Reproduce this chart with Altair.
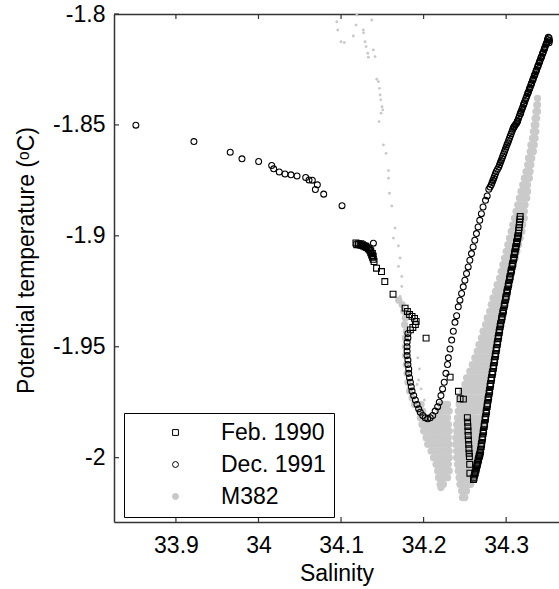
import altair as alt
import pandas as pd

FONT = "Liberation Sans"
X_DOMAIN = [33.825, 34.364]
Y_DOMAIN = [-2.029, -1.8]
X_TICKS = [33.9, 34.0, 34.1, 34.2, 34.3]
Y_TICKS = [-2.0, -1.95, -1.9, -1.85, -1.8]
W, H = 445, 508
TICK_PX = 5

series_names = ["Feb. 1990", "Dec. 1991", "M382"]
series_shapes = ["square", "circle", "circle"]
series_stroke = ["black", "black", "#c8c8c8"]
series_fill = ["transparent", "transparent", "#c8c8c8"]
series_size = [34, 36, 133]

feb = [
    (34.118, -1.9032), (34.119, -1.9040), (34.121, -1.9036), (34.123, -1.9041),
    (34.124, -1.9035), (34.126, -1.9040), (34.128, -1.9044), (34.130, -1.9047),
    (34.125, -1.9043), (34.127, -1.9046), (34.129, -1.9049), (34.131, -1.9053),
    (34.133, -1.9058), (34.135, -1.9066), (34.136, -1.9076), (34.137, -1.9087),
    (34.134, -1.9060), (34.136, -1.9068), (34.138, -1.9080), (34.139, -1.9092),
    (34.138, -1.9097), (34.139, -1.9106), (34.140, -1.9116), (34.143, -1.9146),
    (34.149, -1.9161), (34.153, -1.9206), (34.163, -1.9263), (34.1776, -1.9326),
    (34.1804, -1.9341), (34.183, -1.9355), (34.186, -1.9363), (34.189, -1.9372),
    (34.191, -1.9386), (34.190, -1.9400), (34.187, -1.9413), (34.184, -1.9424),
    (34.203, -1.9461), (34.2321, -1.9637), (34.2422, -1.9701), (34.2442, -1.9734),
    (34.2482, -1.9736),
    (34.2530, -1.9820), (34.2533, -1.9840), (34.2536, -1.9860), (34.2538, -1.9880),
    (34.2540, -1.9900), (34.2543, -1.9920), (34.2546, -1.9940), (34.2549, -1.9960),
    (34.2552, -1.9980), (34.2555, -1.9995), (34.2558, -2.0030), (34.2560, -2.0070),
    (34.2604, -2.0099), (34.2611, -2.0088), (34.2618, -2.0078), (34.2625, -2.0067),
    (34.2632, -2.0057), (34.2639, -2.0046), (34.2646, -2.0036), (34.2653, -2.0025),
    (34.2660, -2.0015), (34.2666, -2.0005), (34.2672, -1.9995), (34.2679, -1.9987),
    (34.2685, -1.9979), (34.2691, -1.9964), (34.2697, -1.9950), (34.2703, -1.9935),
    (34.2709, -1.9920), (34.2715, -1.9905), (34.2721, -1.9890), (34.2727, -1.9875),
    (34.2733, -1.9860), (34.2739, -1.9845), (34.2745, -1.9829), (34.2751, -1.9815),
    (34.2757, -1.9800), (34.2763, -1.9785), (34.2769, -1.9770), (34.2775, -1.9755),
    (34.2781, -1.9740), (34.2788, -1.9725), (34.2794, -1.9710), (34.2800, -1.9695),
    (34.2806, -1.9679), (34.2812, -1.9666), (34.2818, -1.9652), (34.2824, -1.9639),
    (34.2830, -1.9625), (34.2837, -1.9612), (34.2843, -1.9598), (34.2849, -1.9585),
    (34.2855, -1.9571), (34.2861, -1.9558), (34.2867, -1.9544), (34.2873, -1.9531),
    (34.2879, -1.9517), (34.2885, -1.9504), (34.2891, -1.9490), (34.2897, -1.9477),
    (34.2903, -1.9463), (34.2909, -1.9450), (34.2915, -1.9436), (34.2921, -1.9423),
    (34.2927, -1.9409), (34.2935, -1.9394), (34.2943, -1.9379), (34.2951, -1.9364),
    (34.2959, -1.9349), (34.2968, -1.9334), (34.2976, -1.9318), (34.2984, -1.9303),
    (34.2992, -1.9288), (34.3000, -1.9273), (34.3008, -1.9258), (34.3016, -1.9243),
    (34.3024, -1.9228), (34.3032, -1.9213), (34.3040, -1.9198), (34.3048, -1.9183),
    (34.3056, -1.9168), (34.3064, -1.9153), (34.3072, -1.9138), (34.3080, -1.9123),
    (34.3088, -1.9108), (34.3094, -1.9096), (34.3100, -1.9084), (34.3106, -1.9072),
    (34.3112, -1.9060), (34.3119, -1.9048), (34.3125, -1.9036), (34.3131, -1.9024),
    (34.3137, -1.9012), (34.3143, -1.9000), (34.3149, -1.8988), (34.3156, -1.8963),
    (34.3163, -1.8938), (34.3170, -1.8913),
    (34.2607, -2.0093), (34.2621, -2.0072), (34.2635, -2.0051), (34.2649, -2.0030),
    (34.2663, -2.0010), (34.2676, -1.9991), (34.2688, -1.9971), (34.2700, -1.9942),
    (34.2712, -1.9912), (34.2724, -1.9882), (34.2736, -1.9852), (34.2748, -1.9822),
    (34.2760, -1.9792), (34.2772, -1.9762), (34.2784, -1.9732), (34.2797, -1.9702),
    (34.2809, -1.9672), (34.2821, -1.9645), (34.2833, -1.9618), (34.2846, -1.9591),
    (34.2858, -1.9564), (34.2870, -1.9537), (34.2882, -1.9510), (34.2894, -1.9483),
    (34.2906, -1.9456), (34.2918, -1.9429), (34.2931, -1.9401), (34.2947, -1.9371),
    (34.2963, -1.9341), (34.2980, -1.9310), (34.2996, -1.9280), (34.3012, -1.9250),
    (34.3028, -1.9220), (34.3044, -1.9190), (34.3060, -1.9160), (34.3076, -1.9130),
    (34.3091, -1.9102), (34.3103, -1.9078), (34.3115, -1.9054), (34.3128, -1.9030),
    (34.3140, -1.9006), (34.3152, -1.8975), (34.3160, -1.8950), (34.3167, -1.8925),
]

dec = [
    (33.8515, -1.8501), (33.9218, -1.8575), (33.9658, -1.8623), (33.9800, -1.8653),
    (34.0002, -1.8665), (34.0160, -1.8683), (34.0184, -1.8698), (34.0252, -1.8712),
    (34.0321, -1.8721), (34.0394, -1.8725), (34.0467, -1.8730), (34.0572, -1.8737),
    (34.0612, -1.8748), (34.0652, -1.8749), (34.0713, -1.8770), (34.0689, -1.8791),
    (34.0790, -1.8812), (34.1012, -1.8864), (34.1392, -1.9033),
    (34.181, -1.944), (34.181, -1.946), (34.180, -1.948), (34.180, -1.950),
    (34.180, -1.952), (34.180, -1.954), (34.181, -1.956), (34.181, -1.958),
    (34.182, -1.960), (34.182, -1.962), (34.183, -1.964), (34.184, -1.966),
    (34.185, -1.968), (34.186, -1.970), (34.188, -1.972), (34.190, -1.974),
    (34.192, -1.976), (34.194, -1.978), (34.196, -1.9795), (34.199, -1.981),
    (34.202, -1.982), (34.205, -1.9825), (34.208, -1.982), (34.211, -1.981),
    (34.214, -1.979), (34.217, -1.977), (34.219, -1.975), (34.221, -1.972),
    (34.223, -1.969), (34.225, -1.966),
    (34.227, -1.962), (34.229, -1.958), (34.230, -1.955), (34.232, -1.951),
    (34.234, -1.947), (34.236, -1.943), (34.238, -1.939), (34.240, -1.936),
    (34.242, -1.932), (34.244, -1.929), (34.246, -1.926), (34.248, -1.923),
    (34.250, -1.920), (34.252, -1.917), (34.254, -1.914), (34.256, -1.911),
    (34.258, -1.908), (34.260, -1.905), (34.262, -1.902), (34.264, -1.899),
    (34.266, -1.896), (34.268, -1.893), (34.270, -1.890), (34.272, -1.887),
    (34.275, -1.884), (34.277, -1.882), (34.279, -1.879), (34.282, -1.877),
    (34.284, -1.875), (34.286, -1.873), (34.288, -1.871), (34.291, -1.869),
    (34.293, -1.867), (34.295, -1.865), (34.297, -1.863), (34.299, -1.861),
    (34.301, -1.859), (34.303, -1.857), (34.305, -1.855), (34.307, -1.853),
    (34.309, -1.851), (34.311, -1.850), (34.313, -1.849), (34.315, -1.847),
    (34.317, -1.845), (34.319, -1.843), (34.321, -1.841), (34.323, -1.839),
    (34.325, -1.837), (34.327, -1.835), (34.329, -1.833), (34.331, -1.831),
    (34.333, -1.829), (34.335, -1.827), (34.337, -1.825), (34.339, -1.823),
    (34.341, -1.821), (34.343, -1.819), (34.345, -1.817), (34.347, -1.815),
    (34.349, -1.813), (34.350, -1.8115), (34.351, -1.8105), (34.352, -1.8108),
    (34.3525, -1.812), (34.352, -1.813),
    (34.2805, -1.8780), (34.2830, -1.8760), (34.2850, -1.8740), (34.2870, -1.8720),
    (34.2895, -1.8700), (34.2920, -1.8680), (34.2940, -1.8660), (34.2960, -1.8640),
    (34.2980, -1.8620), (34.3000, -1.8600), (34.3020, -1.8580), (34.3040, -1.8560),
    (34.3060, -1.8540), (34.3080, -1.8520), (34.3100, -1.8505), (34.3120, -1.8495),
    (34.3140, -1.8480), (34.3160, -1.8460), (34.3180, -1.8440), (34.3200, -1.8420),
    (34.3220, -1.8400), (34.3240, -1.8380), (34.3260, -1.8360), (34.3280, -1.8340),
    (34.3300, -1.8320), (34.3320, -1.8300), (34.3340, -1.8280), (34.3360, -1.8260),
    (34.3380, -1.8240), (34.3400, -1.8220), (34.3420, -1.8200), (34.3440, -1.8180),
    (34.3460, -1.8160), (34.3480, -1.8140), (34.3500, -1.8125),
    (34.3265, -1.8355), (34.3285, -1.8335), (34.3305, -1.8315), (34.3325, -1.8295),
    (34.3345, -1.8275), (34.3365, -1.8255), (34.3385, -1.8235), (34.3405, -1.8215),
    (34.3425, -1.8195), (34.3445, -1.8175), (34.3465, -1.8155), (34.3485, -1.8135),
    (34.3095, -1.8510), (34.3135, -1.8485), (34.3175, -1.8448), (34.3215, -1.8405),
]

m382_sparse = [
    (34.0948, -1.8035), (34.0960, -1.8072), (34.1000, -1.8125), (34.1040, -1.8129),
    (34.1190, -1.8005), (34.1182, -1.8050), (34.1149, -1.8099), (34.1270, -1.8072),
    (34.1272, -1.8085), (34.1291, -1.8125), (34.1303, -1.8147), (34.1324, -1.8177),
    (34.1331, -1.8195), (34.1372, -1.8027), (34.1392, -1.8162), (34.1412, -1.8192),
    (34.1433, -1.8294), (34.1453, -1.8305), (34.1465, -1.8335), (34.1473, -1.8365),
    (34.1481, -1.8387), (34.1497, -1.8418), (34.1505, -1.8432), (34.1485, -1.8447),
    (34.1461, -1.8485), (34.1513, -1.8590), (34.1545, -1.8628), (34.1574, -1.8706),
    (34.1574, -1.8740), (34.1586, -1.8808), (34.1615, -1.8865), (34.1655, -1.8965),
    (34.1634, -1.9010), (34.1695, -1.9045), (34.1715, -1.9100), (34.1695, -1.9138),
    (34.1736, -1.9183), (34.1736, -1.9228), (34.1715, -1.9273), (34.1675, -1.9288),
    (34.193, -1.955), (34.195, -1.960), (34.194, -1.965), (34.197, -1.969),
    (34.192, -1.967), (34.201, -1.974), (34.3390, -1.8400), (34.3380, -1.8430),
]

m382_rows = [
    (-1.929, [34.170]), (-1.931, [34.174]), (-1.934, [34.176]), (-1.937, [34.178]),
    (-1.940, [34.177]), (-1.943, [34.179]), (-1.946, [34.178]), (-1.950, [34.178]),
    (-1.954, [34.178]), (-1.958, [34.179]), (-1.962, [34.180]), (-1.966, [34.181]),
    (-1.970, [34.183]), (-1.973, [34.186]),
    (-1.976, [34.189, 34.193, 34.197, 34.221, 34.225, 34.229]),
    (-1.979, [34.195, 34.199, 34.219, 34.223, 34.227, 34.231]),
    (-1.982, [34.196, 34.200, 34.204, 34.208, 34.213, 34.217, 34.221, 34.225, 34.229]),
    (-1.985, [34.198, 34.202, 34.206, 34.210, 34.214, 34.218, 34.222, 34.226, 34.230]),
    (-1.988, [34.200, 34.204, 34.208, 34.212, 34.216, 34.220, 34.224, 34.228, 34.231]),
    (-1.991, [34.203, 34.207, 34.211, 34.215, 34.219, 34.223, 34.227, 34.230]),
    (-1.994, [34.205, 34.209, 34.213, 34.217, 34.221, 34.225, 34.229, 34.231]),
    (-1.997, [34.209, 34.213, 34.217, 34.221, 34.225, 34.229, 34.231]),
    (-2.000, [34.212, 34.216, 34.220, 34.224, 34.228, 34.231]),
    (-2.003, [34.215, 34.219, 34.223, 34.227, 34.230]),
    (-2.006, [34.217, 34.221, 34.225, 34.229, 34.231]),
    (-2.009, [34.218, 34.222, 34.226, 34.229]),
    (-2.012, [34.220, 34.224]),
    (-2.0135, [34.221]),
    (-2.018, [34.247, 34.250]),
    (-2.015, [34.246, 34.249, 34.252]),
    (-2.012, [34.244, 34.247, 34.251, 34.255, 34.257]),
    (-2.009, [34.243, 34.246, 34.250, 34.254, 34.257]),
    (-2.006, [34.242, 34.245, 34.249, 34.253, 34.257, 34.259]),
    (-2.003, [34.241, 34.244, 34.248, 34.252, 34.256, 34.260]),
    (-2.000, [34.240, 34.243, 34.247, 34.251, 34.255, 34.259, 34.262]),
    (-1.997, [34.240, 34.243, 34.247, 34.251, 34.255, 34.259, 34.263]),
    (-1.994, [34.239, 34.242, 34.246, 34.250, 34.254, 34.258, 34.262, 34.265]),
    (-1.991, [34.239, 34.242, 34.246, 34.250, 34.254, 34.258, 34.262, 34.266]),
    (-1.988, [34.240, 34.243, 34.247, 34.251, 34.255, 34.259, 34.263, 34.267]),
    (-1.985, [34.240, 34.243, 34.247, 34.251, 34.255, 34.259, 34.263, 34.268]),
    (-1.982, [34.241, 34.244, 34.248, 34.252, 34.256, 34.260, 34.264, 34.269]),
    (-1.979, [34.242, 34.245, 34.249, 34.253, 34.257, 34.261, 34.265, 34.270]),
    (-1.976, [34.243, 34.246, 34.250, 34.254, 34.258, 34.262, 34.266, 34.271]),
    (-1.973, [34.245, 34.248, 34.252, 34.256, 34.260, 34.264, 34.268, 34.272]),
    (-1.970, [34.247, 34.250, 34.254, 34.258, 34.262, 34.266, 34.270, 34.274]),
    (-1.967, [34.250, 34.253, 34.257, 34.261, 34.265, 34.269, 34.273, 34.275]),
    (-1.964, [34.252, 34.255, 34.259, 34.263, 34.267, 34.271, 34.275]),
    (-1.961, [34.256, 34.259, 34.263, 34.267, 34.271, 34.275, 34.278]),
    (-1.958, [34.259, 34.262, 34.266, 34.270, 34.274, 34.278, 34.281]),
    (-1.955, [34.262, 34.265, 34.269, 34.273, 34.277, 34.281, 34.283]),
    (-1.952, [34.265, 34.268, 34.272, 34.276, 34.280, 34.283]),
    (-1.949, [34.267, 34.270, 34.274, 34.278, 34.282, 34.285]),
    (-1.946, [34.270, 34.273, 34.277, 34.281, 34.285, 34.288]),
    (-1.943, [34.272, 34.275, 34.279, 34.283, 34.287, 34.290]),
    (-1.940, [34.275, 34.278, 34.282, 34.286, 34.290, 34.292]),
    (-1.937, [34.277, 34.280, 34.284, 34.288, 34.292, 34.294]),
    (-1.934, [34.280, 34.283, 34.287, 34.291, 34.294]),
    (-1.931, [34.282, 34.285, 34.289, 34.293, 34.296]),
    (-1.928, [34.284, 34.287, 34.291, 34.295, 34.298]),
    (-1.925, [34.287, 34.290, 34.294, 34.298, 34.301]),
    (-1.922, [34.289, 34.292, 34.296, 34.300, 34.303]),
    (-1.919, [34.292, 34.295, 34.299, 34.303, 34.305]),
    (-1.916, [34.294, 34.297, 34.301, 34.305, 34.307]),
    (-1.913, [34.296, 34.299, 34.303, 34.307, 34.309]),
    (-1.910, [34.298, 34.301, 34.305, 34.309, 34.311]),
    (-1.907, [34.300, 34.303, 34.307, 34.311, 34.313]),
    (-1.904, [34.302, 34.305, 34.309, 34.313, 34.315]),
    (-1.901, [34.304, 34.307, 34.311, 34.315, 34.317]),
    (-1.898, [34.306, 34.309, 34.313, 34.317, 34.319]),
    (-1.895, [34.308, 34.311, 34.315, 34.319, 34.320]),
    (-1.892, [34.310, 34.313, 34.317, 34.320, 34.322]),
    (-1.889, [34.312, 34.315, 34.319, 34.322]),
    (-1.886, [34.314, 34.317, 34.321, 34.323]),
    (-1.883, [34.316, 34.319, 34.323, 34.325]),
    (-1.880, [34.318, 34.321, 34.324, 34.326]),
    (-1.877, [34.320, 34.323, 34.326]),
    (-1.874, [34.322, 34.325, 34.328]),
    (-1.871, [34.324, 34.327, 34.329]),
    (-1.868, [34.326, 34.329, 34.330]),
    (-1.865, [34.327, 34.330, 34.331]),
    (-1.862, [34.329, 34.332, 34.333]),
    (-1.859, [34.330, 34.333, 34.334]),
    (-1.856, [34.332, 34.335]),
    (-1.853, [34.333, 34.336]),
    (-1.850, [34.334, 34.336]),
    (-1.847, [34.335, 34.337]),
    (-1.844, [34.336, 34.338]),
    (-1.841, [34.337, 34.338]),
    (-1.838, [34.338]),
]

feb_df = pd.DataFrame(feb, columns=["sal", "temp"])
feb_df["series"] = series_names[0]
dec_df = pd.DataFrame(dec, columns=["sal", "temp"])
dec_df["series"] = series_names[1]
sym_df = pd.concat([feb_df, dec_df], ignore_index=True)

sparse_df = pd.DataFrame(m382_sparse, columns=["sal", "temp"])
cloud_df = pd.DataFrame(
    [(s, t) for t, ss in m382_rows for s in ss], columns=["sal", "temp"]
)

x_scale = alt.Scale(domain=X_DOMAIN, nice=False, zero=False)
y_scale = alt.Scale(domain=Y_DOMAIN, nice=False, zero=False)

# inward tick marks, positioned through the scales (TICK_PX pixels long)
dx = TICK_PX * (X_DOMAIN[1] - X_DOMAIN[0]) / W
dy = TICK_PX * (Y_DOMAIN[1] - Y_DOMAIN[0]) / H
xtick_df = pd.DataFrame({
    "v": X_TICKS * 2,
    "a": [Y_DOMAIN[0]] * len(X_TICKS) + [Y_DOMAIN[1]] * len(X_TICKS),
    "b": [Y_DOMAIN[0] + dy] * len(X_TICKS) + [Y_DOMAIN[1] - dy] * len(X_TICKS),
})
ytick_df = pd.DataFrame({
    "v": Y_TICKS,
    "a": [X_DOMAIN[0]] * len(Y_TICKS),
    "b": [X_DOMAIN[0] + dx] * len(Y_TICKS),
})

AX = "#333333"
FS = 23
common = dict(grid=False, labelFont=FONT, titleFont=FONT, labelColor="black",
              titleColor="black", domainColor=AX, tickColor=AX,
              labelFontSize=FS, titleFontSize=FS, titleFontWeight="normal")

x_main = alt.Axis(orient="bottom", values=X_TICKS, labelExpr="'' + datum.value",
                  ticks=False, domain=True, domainWidth=1.5, labelPadding=12,
                  title="Salinity", titleY=58, titleBaseline="alphabetic", **common)
y_main = alt.Axis(orient="left", values=Y_TICKS, labelExpr="'' + datum.value",
                  ticks=False, domain=True, domainWidth=1.5, labelPadding=9,
                  title="Potential temperature (ᵒC)", titleX=-81, titleY=246,
                  titleAngle=-90, titleAlign="center", titleBaseline="alphabetic",
                  **common)
x_top = alt.Axis(orient="bottom", offset=-H, values=X_TICKS, labels=False,
                 ticks=False, domain=True, domainWidth=1.5, title="", **common)

cloud = alt.Chart(cloud_df).mark_circle(color="#cacaca", opacity=1, size=52).encode(
    x=alt.X("sal:Q", scale=x_scale, axis=x_main),
    y=alt.Y("temp:Q", scale=y_scale, axis=y_main),
)

sparse = alt.Chart(sparse_df).mark_circle(color="#c8c8c8", opacity=1, size=8).encode(
    x=alt.X("sal:Q", scale=x_scale, axis=None),
    y=alt.Y("temp:Q", scale=y_scale, axis=None),
)

legend = alt.Legend(title=None, orient="none", legendX=10, legendY=399,
                    direction="vertical", fillColor="white", strokeColor="black",
                    padding=8, labelFont=FONT, labelFontSize=FS, labelColor="black",
                    rowPadding=8, symbolOffset=32, labelOffset=34,
                    symbolStrokeWidth=1)

series_domain = series_names
symbols = alt.Chart(sym_df).mark_point(opacity=1, strokeWidth=1.1).encode(
    x=alt.X("sal:Q", scale=x_scale, axis=x_top),
    y=alt.Y("temp:Q", scale=y_scale, axis=None),
    shape=alt.Shape("series:N", scale=alt.Scale(domain=series_domain, range=series_shapes), legend=legend),
    stroke=alt.Stroke("series:N", scale=alt.Scale(domain=series_domain, range=series_stroke), legend=legend),
    fill=alt.Fill("series:N", scale=alt.Scale(domain=series_domain, range=series_fill), legend=legend),
    size=alt.Size("series:N", scale=alt.Scale(domain=series_domain, range=series_size), legend=legend),
)

tick_x = alt.Chart(xtick_df).mark_rule(color=AX, strokeWidth=1.2).encode(
    x=alt.X("v:Q", scale=x_scale, axis=None),
    y=alt.Y("a:Q", scale=y_scale, axis=None),
    y2="b:Q",
)
tick_y = alt.Chart(ytick_df).mark_rule(color=AX, strokeWidth=1.2).encode(
    y=alt.Y("v:Q", scale=y_scale, axis=None),
    x=alt.X("a:Q", scale=x_scale, axis=None),
    x2="b:Q",
)

chart = alt.layer(cloud, sparse, symbols, tick_x, tick_y).resolve_axis(
    x="independent", y="independent"
).properties(
    width=W, height=H,
    autosize=alt.AutoSizeParams(type="none"),
    padding={"left": 114, "top": 14, "right": 0, "bottom": 67},
).configure_view(stroke="transparent")

chart.save("out.html", embed_options={"renderer": "svg", "actions": False})
